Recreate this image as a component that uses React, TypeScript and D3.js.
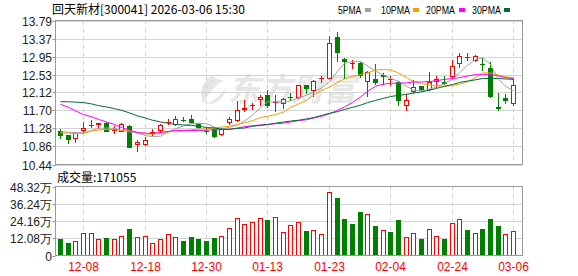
import React from "react";
import * as d3 from "d3";

const dates = [
  "12-03","12-04","12-05","12-08","12-09","12-10","12-11","12-12","12-15","12-16",
  "12-17","12-18","12-19","12-22","12-23","12-24","12-25","12-26","12-29","12-30",
  "12-31","01-05","01-06","01-07","01-08","01-09","01-12","01-13","01-14","01-15",
  "01-16","01-19","01-20","01-21","01-22","01-23","01-26","01-27","01-28","01-29",
  "01-30","02-02","02-03","02-04","02-05","02-06","02-09","02-10","02-11","02-12",
  "02-13","02-24","02-25","02-26","02-27","03-02","03-03","03-04","03-05","03-06",
];

const opens = [
  11.23,11.12,11.04,11.23,11.36,11.36,11.41,11.22,11.20,11.33,
  10.89,10.89,11.15,11.22,11.40,11.35,11.48,11.49,11.39,11.23,
  11.26,11.12,11.40,11.45,11.71,11.80,11.95,12.05,11.86,11.85,
  12.02,11.98,12.28,12.15,12.45,12.43,13.41,12.90,12.77,12.81,
  12.36,12.44,12.53,12.41,12.36,11.80,12.13,12.26,12.18,12.36,
  12.36,12.47,12.77,12.91,12.84,12.78,12.69,11.77,11.98,11.84,
];
const highs = [
  11.27,11.13,11.19,11.43,11.48,11.40,11.44,11.33,11.41,11.35,
  11.00,11.07,11.26,11.39,11.51,11.56,11.54,11.58,11.41,11.29,
  11.28,11.29,11.55,11.91,11.95,11.87,12.05,12.17,12.05,11.99,
  12.11,12.30,12.29,12.40,12.50,13.43,13.53,12.92,12.86,12.83,
  12.61,12.78,12.57,12.50,12.38,12.09,12.40,12.26,12.60,12.50,
  12.51,12.86,13.03,13.04,12.98,12.92,12.83,12.11,12.07,12.42,
];
const lows = [
  11.04,10.92,10.95,11.18,11.29,11.26,11.19,11.14,11.19,10.82,
  10.73,10.87,11.10,11.18,11.37,11.33,11.43,11.39,11.26,11.15,
  11.05,11.10,11.37,11.44,11.67,11.71,11.80,11.76,11.67,11.74,
  11.91,11.97,12.07,12.02,12.34,12.42,12.83,12.42,12.67,12.46,
  12.01,12.30,12.30,12.26,11.80,11.68,12.11,12.16,12.15,12.22,
  12.29,12.46,12.69,12.84,12.83,12.61,11.98,11.68,11.84,11.80,
];
const closes = [
  11.10,11.02,11.17,11.29,11.37,11.40,11.20,11.26,11.39,10.83,
  10.97,11.02,11.19,11.35,11.42,11.50,11.46,11.41,11.28,11.20,
  11.08,11.26,11.51,11.71,11.76,11.82,12.02,11.81,11.89,11.96,
  12.00,12.29,12.20,12.38,12.46,13.27,13.04,12.82,12.79,12.50,
  12.59,12.33,12.48,12.43,11.91,11.93,12.25,12.17,12.36,12.42,
  12.31,12.74,12.97,12.95,12.96,12.75,12.01,11.73,11.91,12.30,
];
const volumes = [
  115000,87000,99000,155000,155000,113000,122000,113000,134000,185000,
  129000,134000,85000,113000,148000,127000,99000,129000,115000,99000,
  122000,134000,190000,260000,218000,232000,260000,246000,267000,162000,
  211000,232000,171000,176000,148000,448000,402000,255000,220000,304000,
  288000,206000,176000,164000,248000,129000,155000,115000,185000,134000,
  115000,225000,253000,178000,155000,185000,255000,206000,148000,171055,
];
const ma5 = [
  11.20,11.19,11.18,11.18,11.23,11.28,11.29,11.28,11.24,11.20,
  11.18,11.11,11.09,11.10,11.20,11.27,11.34,11.39,11.40,11.39,
  11.31,11.26,11.31,11.36,11.45,11.59,11.76,11.90,11.90,11.88,
  11.92,11.99,12.05,12.12,12.22,12.36,12.61,12.79,12.84,12.84,
  12.73,12.61,12.52,12.44,12.38,12.26,12.17,12.15,12.19,12.25,
  12.32,12.43,12.57,12.75,12.88,12.92,12.77,12.42,12.26,12.15,
];
const ma10 = [
  11.18,11.17,11.16,11.16,11.22,11.24,11.26,11.25,11.24,11.23,
  11.19,11.15,11.15,11.16,11.20,11.22,11.23,11.25,11.26,11.27,
  11.29,11.31,11.33,11.37,11.41,11.46,11.53,11.56,11.60,11.66,
  11.77,11.85,11.93,12.05,12.16,12.24,12.35,12.43,12.49,12.53,
  12.57,12.64,12.65,12.64,12.57,12.46,12.37,12.32,12.29,12.27,
  12.26,12.28,12.31,12.36,12.46,12.57,12.57,12.52,12.48,12.46,
];
const ma20 = [
  11.84,11.77,11.69,11.60,11.55,11.49,11.43,11.37,11.30,11.24,
  11.18,11.17,11.16,11.19,11.21,11.23,11.23,11.23,11.23,11.24,
  11.25,11.25,11.26,11.29,11.32,11.34,11.36,11.37,11.39,11.40,
  11.43,11.46,11.48,11.52,11.56,11.62,11.70,11.78,11.88,12.01,
  12.14,12.26,12.31,12.33,12.33,12.34,12.36,12.36,12.37,12.39,
  12.42,12.44,12.46,12.50,12.53,12.53,12.53,12.50,12.46,12.44,
];
const ma30 = [
  11.90,11.90,11.89,11.88,11.85,11.81,11.78,11.74,11.70,11.64,
  11.57,11.52,11.47,11.43,11.40,11.37,11.36,11.35,11.33,11.30,
  11.29,11.26,11.26,11.28,11.29,11.33,11.35,11.37,11.40,11.43,
  11.45,11.47,11.50,11.53,11.58,11.63,11.67,11.72,11.77,11.82,
  11.88,11.93,11.98,12.02,12.05,12.07,12.10,12.13,12.17,12.21,
  12.26,12.30,12.35,12.38,12.41,12.44,12.44,12.44,12.43,12.42,
];

const priceTicks = ["13.79","13.37","12.95","12.53","12.12","11.70","11.28","10.86","10.44"];
const volTickValues = [483200, 362400, 241600, 120800, 0];
const volTickLabels = ["48.32万", "36.24万", "24.16万", "12.08万", "0"];
const xLabelDates = ["12-08","12-18","12-30","01-13","01-23","02-04","02-24","03-06"];

const maNames = ["5PMA", "10PMA", "20PMA", "30PMA"];
const maColors = ["#a0a0a0", "#f5a000", "#ff00ff", "#006b35"];
const stockTitle = "回天新材[300041] 2026-03-06 15:30";
const volTitle = "成交量:171055";
const watermark = "东方财富";

const RED = "#ff0000";
const GREEN = "#008000";

export default function App() {
  const left = 55.5, right = 522.5;
  const mTop = 20.5, mBot = 164.5;
  const vTop = 186.5, vBot = 255.5;

  const x = d3.scaleBand<string>().domain(dates).range([56.2, 517]).padding(0);
  const cx = (i: number) => Math.round((x(dates[i]) as number) + x.bandwidth() / 2);
  const y = d3.scaleLinear().domain([10.44, 13.79]).range([mBot, mTop]);
  const yv = d3.scaleLinear().domain([0, 483200]).range([vBot, vTop]);

  const mas = [ma5, ma10, ma20, ma30];
  const lineGen = d3.line<number>().x((_, i) => cx(i) + 0.5).y((v) => y(v));

  const font = "'Liberation Sans', Arial, sans-serif";
  const cjk = "'Noto Sans CJK SC', sans-serif";

  return (
    <svg width={578} height={276} style={{ position: "absolute", left: 0, top: 0, background: "#fff" }}>
      <rect x={0} y={0} width={578} height={276} fill="#fff" />
      {/* title */}
      <text x={52} y={14} fontSize={12} fontFamily={cjk} fill="#000">{stockTitle}</text>
      {/* legend */}
      {maNames.map((n, k) => {
        const tx = [338, 381, 426, 472][k];
        const sx = [365, 413, 459, 504][k];
        return (
          <g key={n}>
            <text x={tx} y={14} fontSize={11} fontFamily={font} fill="#000" textLength={n.length * 5.8} lengthAdjust="spacingAndGlyphs">{n}</text>
            <rect x={sx} y={8} width={6} height={4} fill={maColors[k]} />
          </g>
        );
      })}

      {/* watermark */}
      <path d="M 212 75 C 202 82, 198 94, 204 104 C 206 96, 212 88, 224 80 C 218 80, 214 78, 212 75 Z M 208 104 C 214 100, 220 96, 226 88 C 224 98, 218 104, 208 104 Z" fill="#e6e6e6" />
      <text x={228} y={101} fontSize={32} fontFamily={cjk} fontWeight={700} fontStyle="italic" fill="#e6e6e6">{watermark}</text>

      {/* main grid */}
      {priceTicks.map((t) => {
        const yy = Math.round(y(+t)) + 0.5;
        return (
          <g key={"pt" + t}>
            <line x1={left} x2={right} y1={yy} y2={yy} stroke="#d4d4d4" />
            <line x1={left - 3} x2={left} y1={yy} y2={yy} stroke="#999" />
            <text x={52} y={yy + 4} fontSize={12} fontFamily={font} textAnchor="end" fill="#222">{t}</text>
          </g>
        );
      })}
      {xLabelDates.map((d) => {
        const xx = cx(dates.indexOf(d)) + 0.5;
        return (
          <g key={"xl" + d}>
            <line x1={xx} x2={xx} y1={mTop} y2={mBot} stroke="#cfcfcf" strokeDasharray="4,4" />
            <line x1={xx} x2={xx} y1={vTop} y2={vBot} stroke="#cfcfcf" strokeDasharray="4,4" />
            <text x={xx} y={271} fontSize={12} fontFamily={font} textAnchor="middle" fill={RED}>{d}</text>
          </g>
        );
      })}

      {/* volume grid */}
      {volTickValues.map((v, k) => {
        const yy = Math.round(yv(v)) + 0.5;
        return (
          <g key={"vt" + k}>
            {k > 0 && k < volTickValues.length - 1 && (
              <line x1={left} x2={right} y1={yy} y2={yy} stroke="#d4d4d4" />
            )}
            <line x1={left - 3} x2={left} y1={yy} y2={yy} stroke="#999" />
            <text x={52} y={yy + 4} fontSize={12} fontFamily={font} textAnchor="end" fill="#222">
              {volTickLabels[k]}
            </text>
          </g>
        );
      })}
      <text x={57} y={182} fontSize={12} fontFamily={cjk} fill="#000">{volTitle}</text>

      {/* candles */}
      {dates.map((d, i) => {
        const o = opens[i], c = closes[i], h = highs[i], l = lows[i];
        const px = cx(i);
        const up = c > o;
        const col = up ? RED : GREEN;
        const yTop = Math.round(y(Math.max(o, c)));
        const yBotB = Math.round(y(Math.min(o, c)));
        const yh = Math.round(y(h));
        const yl = Math.round(y(l));
        const bh = yBotB - yTop;
        if (up) {
          return (
            <g key={"c" + i}>
              <line x1={px + 0.5} x2={px + 0.5} y1={yh} y2={yTop} stroke={col} />
              <line x1={px + 0.5} x2={px + 0.5} y1={yBotB} y2={yl} stroke={col} />
              {bh < 2 ? (
                <rect x={px - 2} y={yTop} width={5} height={Math.max(bh, 1)} fill={col} />
              ) : (
                <rect x={px - 1.5} y={yTop + 0.5} width={4} height={bh - 1} fill="#fff" stroke={col} />
              )}
            </g>
          );
        }
        return (
          <g key={"c" + i}>
            <line x1={px + 0.5} x2={px + 0.5} y1={yh} y2={yl} stroke={col} />
            <rect x={px - 2} y={yTop} width={5} height={Math.max(bh, 1)} fill={col} />
          </g>
        );
      })}

      {/* moving averages */}
      {mas.map((m, k) => (
        <path key={"ma" + k} d={lineGen(m) || ""} fill="none" stroke={maColors[k]} strokeWidth={1} />
      ))}

      {/* volume bars */}
      {dates.map((d, i) => {
        const px = cx(i);
        const up = i === 0 ? closes[i] > opens[i] : closes[i] > closes[i - 1];
        const top = Math.round(yv(volumes[i]));
        const bot = Math.round(yv(0));
        if (up) {
          return <rect key={"v" + i} x={px - 1.5} y={top + 0.5} width={4} height={bot - top - 1} fill="#fff" stroke={RED} />;
        }
        return <rect key={"v" + i} x={px - 2} y={top} width={5} height={bot - top} fill={GREEN} />;
      })}

      {/* borders */}
      <rect x={left} y={mTop} width={right - left} height={mBot - mTop} fill="none" stroke="#999" />
      <rect x={left} y={vTop} width={right - left} height={vBot - vTop} fill="none" stroke="#999" />
    </svg>
  );
}
